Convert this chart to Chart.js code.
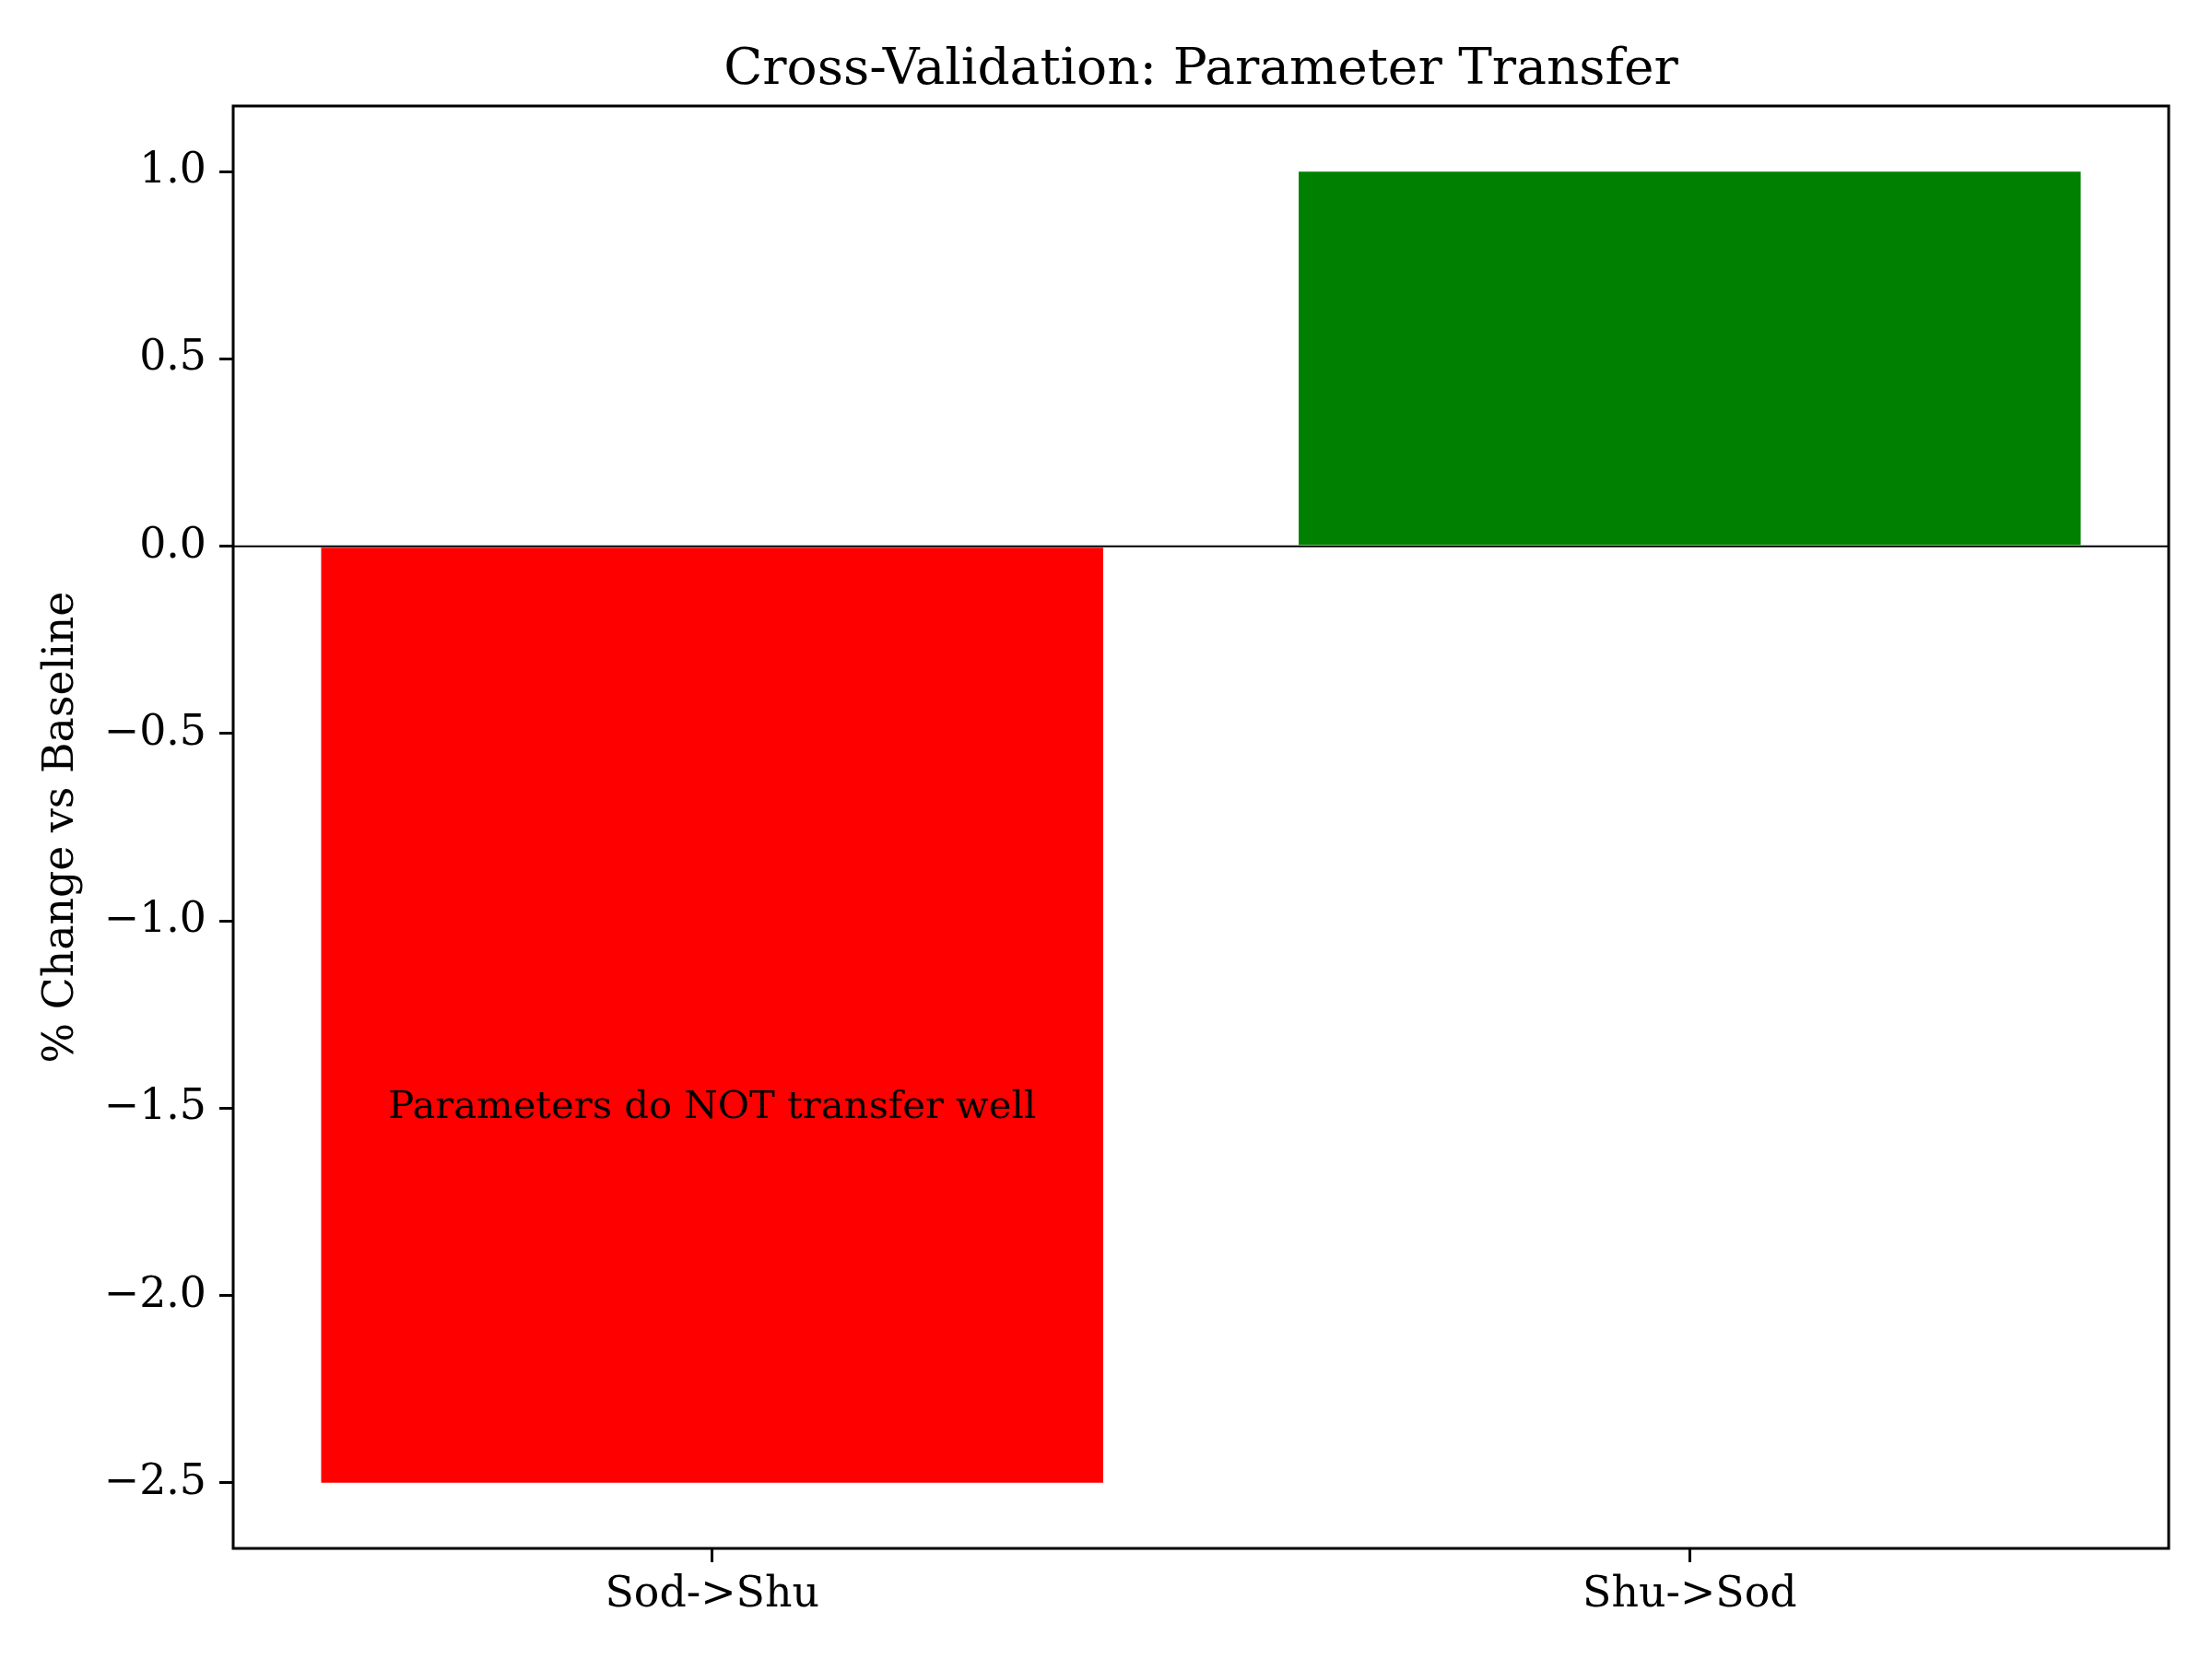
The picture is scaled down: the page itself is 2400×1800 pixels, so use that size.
<!DOCTYPE html>
<html lang="en">
<head>
<meta charset="UTF-8">
<title>Cross-Validation: Parameter Transfer</title>
<script src="https://cdn.jsdelivr.net/npm/chart.js@4.4.0/dist/chart.umd.min.js"></script>
<style>
  body { margin: 0; background: #fff; }
  canvas { display: block; }
</style>
</head>
<body>
<canvas id="chart" width="2400" height="1800"></canvas>
<script>
// data
const categories = ['Sod->Shu', 'Shu->Sod'];
const changes = [-2.5, 1.0];
const barColors = ['#ff0000', '#008000'];
const yTicks = [1.0, 0.5, 0.0, -0.5, -1.0, -1.5, -2.0, -2.5];
const chartTitle = 'Cross-Validation: Parameter Transfer';
const note = { text: 'Parameters do NOT transfer well', x: 0, y: -1.5 };

const FONT = "'DejaVu Serif', serif";

// title over the plot area, top/right spines, zero line, note text
const extras = {
  id: 'extras',
  afterDatasetsDraw(chart) {
    const { ctx, chartArea: a, scales } = chart;
    const y0 = scales.y.getPixelForValue(0);
    ctx.save();
    ctx.strokeStyle = '#000';
    ctx.lineWidth = 2;
    ctx.beginPath();
    ctx.moveTo(a.left, y0);
    ctx.lineTo(a.right, y0);
    ctx.stroke();

    ctx.fillStyle = '#000';
    ctx.font = '41.7px ' + FONT;
    ctx.textAlign = 'center';
    ctx.textBaseline = 'middle';
    ctx.fillText(note.text, scales.x.getPixelForValue(note.x), scales.y.getPixelForValue(note.y));

    ctx.font = '55px ' + FONT;
    ctx.textBaseline = 'alphabetic';
    ctx.fillText(chartTitle, (a.left + a.right) / 2, a.top - 24);

    ctx.lineWidth = 3;
    ctx.strokeRect(a.left, a.top, a.right - a.left, a.bottom - a.top);
    ctx.restore();
  }
};

new Chart(document.getElementById('chart').getContext('2d'), {
  type: 'bar',
  data: {
    datasets: [{
      data: categories.map((c, i) => ({ x: i, y: changes[i] })),
      backgroundColor: barColors,
      borderWidth: 0,
      barPercentage: 0.8,
      categoryPercentage: 1.0
    }]
  },
  options: {
    responsive: false,
    devicePixelRatio: 1,
    animation: false,
    layout: { padding: { top: 115, right: 47, bottom: 0, left: 0 } },
    plugins: {
      legend: { display: false },
      tooltip: { enabled: false },
      title: { display: false }
    },
    scales: {
      x: {
        type: 'linear',
        offset: false,
        min: -0.49,
        max: 1.49,
        afterBuildTicks: s => { s.ticks = categories.map((c, i) => ({ value: i })); },
        afterFit: s => { s.height = 120; },
        border: { display: false },
        grid: { offset: false, drawOnChartArea: false, drawTicks: true, tickLength: 15, color: '#000', lineWidth: 3 },
        ticks: {
          color: '#000',
          padding: 9,
          maxRotation: 0,
          font: { family: FONT, size: 45.8 },
          callback: v => categories[v]
        }
      },
      y: {
        min: -2.675,
        max: 1.175,
        afterBuildTicks: s => { s.ticks = yTicks.map(v => ({ value: v })); },
        afterFit: s => { s.width = 253; },
        border: { display: false },
        grid: { drawOnChartArea: false, drawTicks: true, tickLength: 15, color: '#000', lineWidth: 3 },
        ticks: {
          color: '#000',
          padding: 14,
          font: { family: FONT, size: 45.8 },
          callback: v => v.toFixed(1).replace('-', '\u2212')
        },
        title: {
          display: true,
          text: '% Change vs Baseline',
          color: '#000',
          font: { family: FONT, size: 45.8 },
          padding: { top: 40, bottom: 0 }
        }
      }
    }
  },
  plugins: [extras]
});
</script>
</body>
</html>
